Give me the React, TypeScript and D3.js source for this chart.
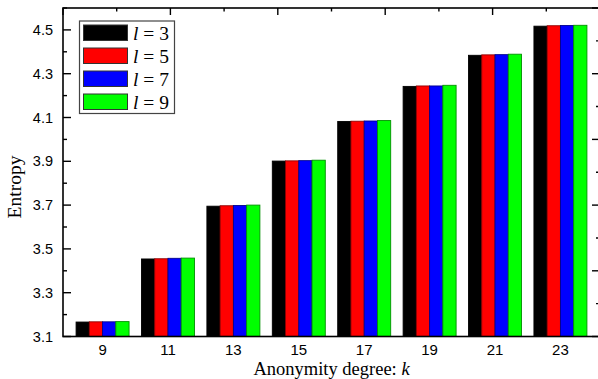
import React, { useEffect, useRef } from 'react';
import * as d3 from 'd3';

// values
const ks = ['9', '11', '13', '15', '17', '19', '21', '23'];
const lLabels = ['3', '5', '7', '9'];
const l3 = [3.166, 3.454, 3.695, 3.901, 4.082, 4.242, 4.384, 4.517];
const l5 = [3.167, 3.455, 3.697, 3.902, 4.083, 4.244, 4.386, 4.519];
const l7 = [3.167, 3.457, 3.698, 3.903, 4.084, 4.244, 4.387, 4.52];
const l9 = [3.168, 3.458, 3.7, 3.905, 4.086, 4.247, 4.389, 4.521];
const colors = ['#000000', '#ff0000', '#0000ff', '#00ff00'];
const yMajor = [3.1, 3.3, 3.5, 3.7, 3.9, 4.1, 4.3, 4.5];
const yMinor = [3.2, 3.4, 3.6, 3.8, 4.0, 4.2, 4.4, 4.6];

const SANS = "'Liberation Sans', Arial, sans-serif";
const SERIF = "'Liberation Serif', 'Times New Roman', serif";

export default function App() {
  const ref = useRef<SVGSVGElement>(null);

  useEffect(() => {
    const svg = d3.select(ref.current);
    svg.selectAll('*').remove();

    const left = 63, right = 600, top = 8, bottom = 336.5;
    const series = [l3, l5, l7, l9];

    const x = d3.scaleBand().domain(ks).range([left, right]).paddingInner(0.19).paddingOuter(0.2);
    const xi = d3.scaleBand().domain(lLabels).range([0, x.bandwidth()]);
    const y = d3.scaleLinear().domain([3.1, 4.6]).range([bottom, top]);
    // mirror axes (top / right) have their own plain spacing
    const xTop = d3.scaleLinear().domain([0, 5]).range([left, right]);
    const yRight = d3.scaleLinear().domain([0, 5]).range([bottom, top]);

    // bars
    series.forEach((vals, si) => {
      svg.append('g')
        .selectAll('rect')
        .data(vals)
        .join('rect')
        .attr('x', (d, i) => x(ks[i])! + xi(lLabels[si])!)
        .attr('y', d => y(d))
        .attr('width', xi.bandwidth())
        .attr('height', d => bottom - y(d))
        .attr('fill', colors[si])
        .attr('stroke', d3.color(colors[si])!.darker(1.6).formatHex())
        .attr('stroke-width', 0.9);
    });

    // frame
    svg.append('rect')
      .attr('x', left).attr('y', top)
      .attr('width', right - left).attr('height', bottom - top)
      .attr('fill', 'none').attr('stroke', '#000').attr('stroke-width', 1.6);

    // left axis, ticks inward
    const gl = svg.append('g');
    gl.selectAll('line.maj').data(yMajor).join('line')
      .attr('x1', left).attr('x2', left + 8)
      .attr('y1', d => y(d)).attr('y2', d => y(d))
      .attr('stroke', '#000').attr('stroke-width', 1.4);
    gl.selectAll('line.min').data(yMinor).join('line')
      .attr('x1', left).attr('x2', left + 4)
      .attr('y1', d => y(d)).attr('y2', d => y(d))
      .attr('stroke', '#000').attr('stroke-width', 1.4);
    gl.selectAll('text').data(yMajor).join('text')
      .attr('x', left - 10).attr('y', d => y(d) + 5)
      .attr('text-anchor', 'end')
      .attr('font-family', SANS)
      .attr('font-size', 14.5)
      .text(d => d3.format('.1f')(d));

    // bottom labels
    svg.append('g').selectAll('text').data(ks).join('text')
      .attr('x', d => x(d)! + x.bandwidth() / 2)
      .attr('y', 355)
      .attr('text-anchor', 'middle')
      .attr('font-family', SANS)
      .attr('font-size', 15)
      .text(d => d);

    // top ticks
    const tt = d3.range(0, 5.01, 0.5);
    svg.append('g').selectAll('line').data(tt).join('line')
      .attr('x1', d => xTop(d)).attr('x2', d => xTop(d))
      .attr('y1', top).attr('y2', d => top + (d % 1 === 0 ? 7 : 3.5))
      .attr('stroke', '#000').attr('stroke-width', 1.4);
    // right ticks
    svg.append('g').selectAll('line').data(tt).join('line')
      .attr('y1', d => yRight(d)).attr('y2', d => yRight(d))
      .attr('x1', right).attr('x2', d => right - (d % 1 === 0 ? 8 : 4))
      .attr('stroke', '#000').attr('stroke-width', 1.4);

    // axis titles
    const xt = svg.append('text')
      .attr('x', (left + right) / 2).attr('y', 375)
      .attr('text-anchor', 'middle')
      .attr('font-family', SERIF)
      .attr('font-size', 18.5);
    xt.append('tspan').text('Anonymity degree: ');
    xt.append('tspan').attr('font-style', 'italic').text('k');

    svg.append('text')
      .attr('transform', `translate(21,187) rotate(-90)`)
      .attr('text-anchor', 'middle')
      .attr('font-family', SERIF)
      .attr('font-size', 19.5)
      .text('Entropy');

    // legend
    const lg = svg.append('g');
    lg.append('rect')
      .attr('x', 79.5).attr('y', 21).attr('width', 95).attr('height', 92.5)
      .attr('fill', '#fff').attr('stroke', '#444').attr('stroke-width', 1.2);
    lLabels.forEach((l, i) => {
      const cy = 33 + i * 23;
      lg.append('rect')
        .attr('x', 83.5).attr('y', cy - 8).attr('width', 44).attr('height', 15.5)
        .attr('fill', colors[i]).attr('stroke', '#333').attr('stroke-width', 1);
      const t = lg.append('text')
        .attr('x', 133).attr('y', cy + 6.5)
        .attr('font-family', SERIF)
        .attr('font-size', 19.5);
      t.append('tspan').attr('font-style', 'italic').text('l');
      t.append('tspan').text(` = ${l}`);
    });
  }, []);

  return (
    <svg ref={ref} width={598} height={379}
      style={{ position: 'absolute', left: 0, top: 0, background: '#fff' }} />
  );
}
